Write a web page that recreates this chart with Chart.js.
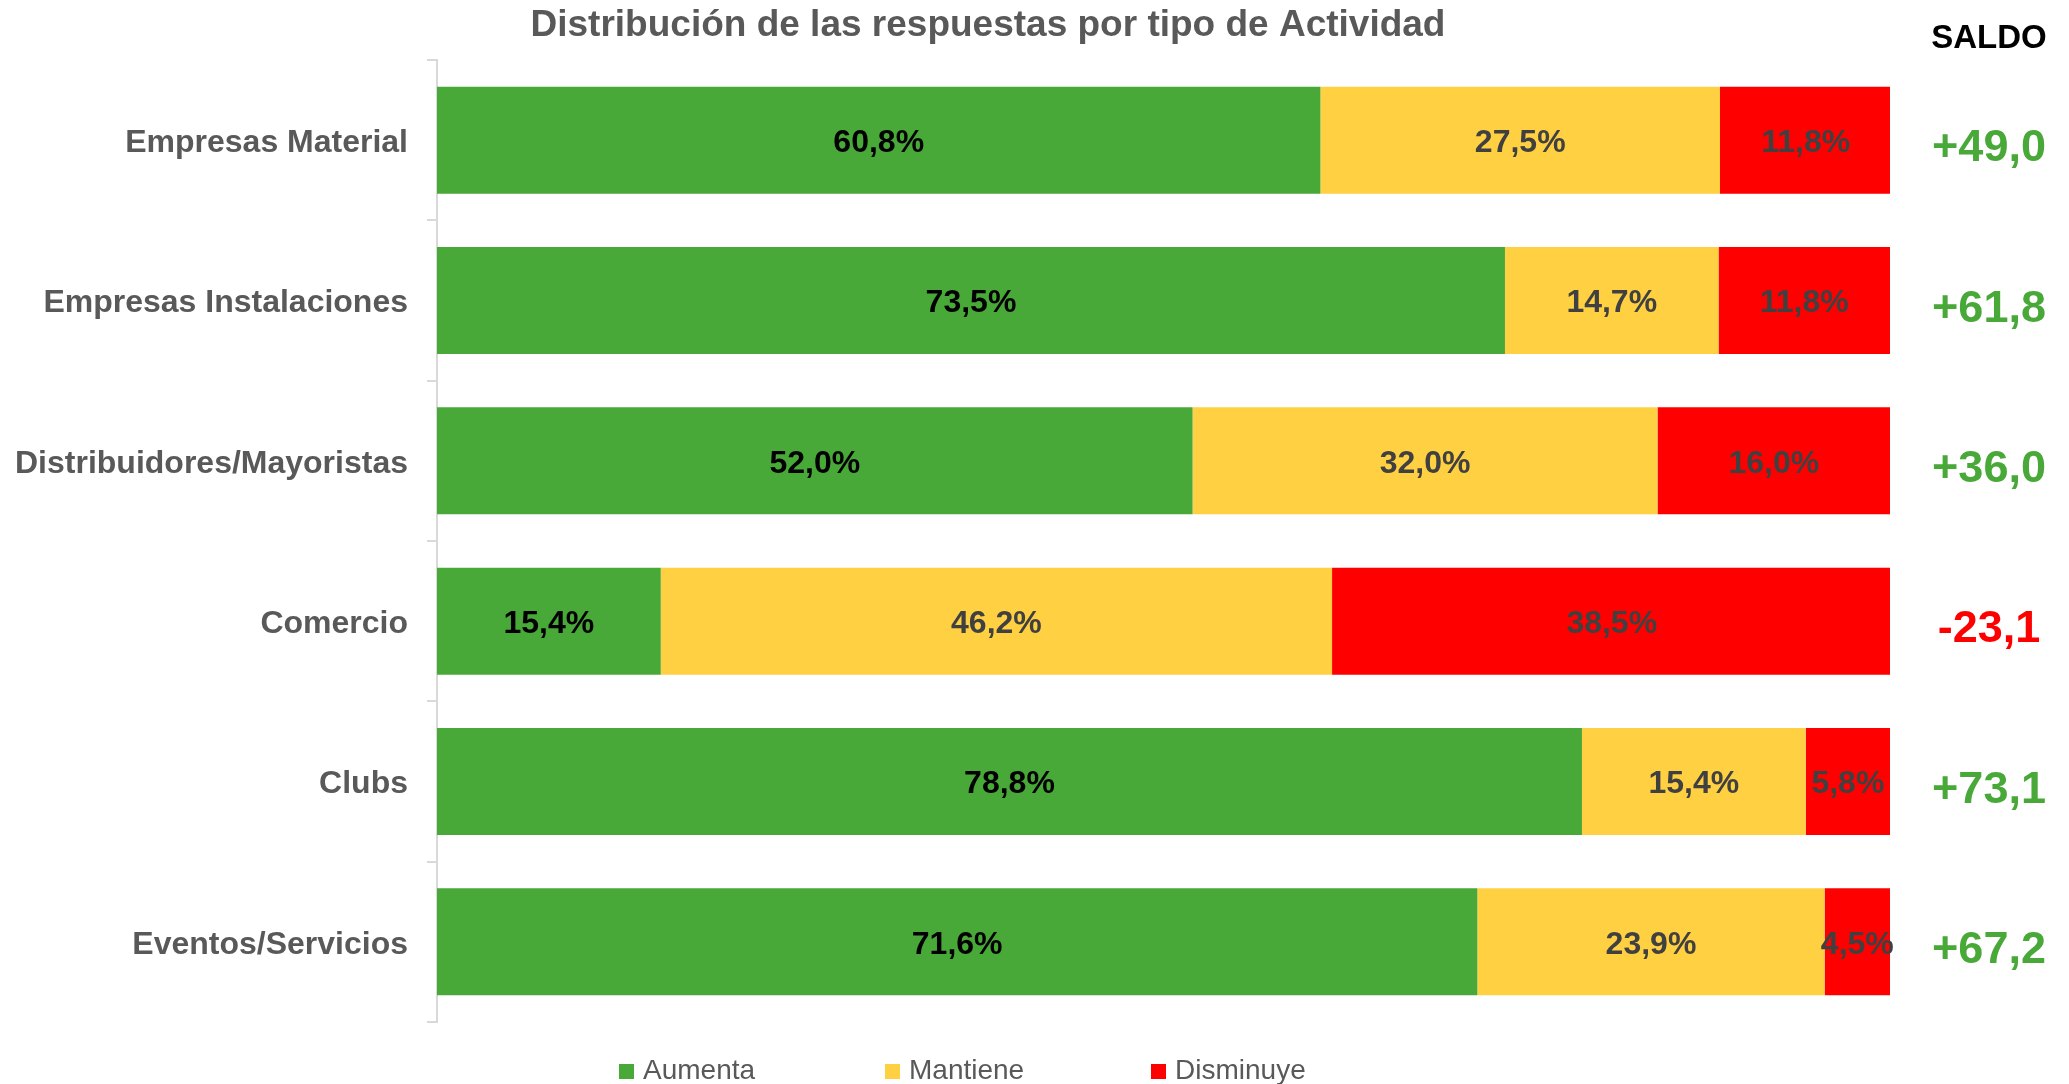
<!DOCTYPE html>
<html>
<head>
<meta charset="utf-8">
<script src="https://cdn.jsdelivr.net/npm/chart.js@4.4.1/dist/chart.umd.min.js"></script>
<style>
  html, body { margin: 0; padding: 0; background: #ffffff; }
  #wrap { position: relative; width: 2069px; height: 1084px; }
</style>
</head>
<body>
<div id="wrap"><canvas id="c" width="2069" height="1084"></canvas></div>
<script>
const categories = ["Empresas Material", "Empresas Instalaciones", "Distribuidores/Mayoristas", "Comercio", "Clubs", "Eventos/Servicios"];
const aumenta   = [60.8, 73.5, 52.0, 15.4, 78.8, 71.6];
const mantiene  = [27.5, 14.7, 32.0, 46.2, 15.4, 23.9];
const disminuye = [11.8, 11.8, 16.0, 38.5, 5.8, 4.5];
const saldo     = [49.0, 61.8, 36.0, -23.1, 73.1, 67.2];
const seriesNames = ["Aumenta", "Mantiene", "Disminuye"];
const titleText = "Distribución de las respuestas por tipo de Actividad";
const saldoTitle = "SALDO";

const GREEN = "#48A838", YELLOW = "#FFD042", RED = "#FF0000";
const FONT = "'Liberation Sans', Arial, sans-serif";

function fmt(v, dec) { return v.toFixed(dec).replace(".", ","); }

const overlay = {
  id: "overlay",
  afterDatasetsDraw(chart) {
    const ctx = chart.ctx;
    const labelColors = ["#000000", "#404040", "#404040"];
    ctx.save();
    ctx.font = "bold 32px " + FONT;
    ctx.textAlign = "center";
    ctx.textBaseline = "middle";
    chart.data.datasets.forEach((ds, di) => {
      const meta = chart.getDatasetMeta(di);
      meta.data.forEach((el, i) => {
        const cx = (el.x + el.base) / 2;
        ctx.fillStyle = labelColors[di];
        ctx.fillText(fmt(ds.data[i], 1) + "%", cx, el.y + 3);
      });
    });
    ctx.restore();
  },
  afterDraw(chart) {
    const ctx = chart.ctx;
    ctx.save();
    // title
    ctx.font = "bold 37px " + FONT;
    ctx.fillStyle = "#595959";
    ctx.textAlign = "center";
    ctx.textBaseline = "alphabetic";
    ctx.fillText(titleText, 988, 36);
    // SALDO header
    ctx.font = "bold 33px " + FONT;
    ctx.fillStyle = "#000000";
    ctx.fillText(saldoTitle, 1989, 48);
    // saldo values
    const yScale = chart.scales.y;
    ctx.font = "bold 45px " + FONT;
    saldo.forEach((v, i) => {
      const y = yScale.getPixelForValue(i);
      ctx.fillStyle = v >= 0 ? GREEN : RED;
      const s = (v >= 0 ? "+" : "-") + fmt(Math.abs(v), 1);
      ctx.fillText(s, 1989, y + 21);
    });
    // legend
    const lx = [619, 885, 1151];
    ctx.font = "28px " + FONT;
    ctx.textAlign = "left";
    chart.data.datasets.forEach((ds, di) => {
      ctx.fillStyle = ds.backgroundColor;
      ctx.fillRect(lx[di], 1064, 15, 15);
      ctx.fillStyle = "#595959";
      ctx.fillText(ds.label, lx[di] + 24, 1079);
    });
    ctx.restore();
  }
};

new Chart(document.getElementById("c"), {
  type: "bar",
  data: {
    labels: categories,
    datasets: [
      { label: seriesNames[0], data: aumenta, backgroundColor: GREEN },
      { label: seriesNames[1], data: mantiene, backgroundColor: YELLOW },
      { label: seriesNames[2], data: disminuye, backgroundColor: RED }
    ]
  },
  options: {
    indexAxis: "y",
    responsive: false,
    animation: false,
    layout: { padding: { top: 60, bottom: 62, left: 0, right: 179 } },
    datasets: { bar: { categoryPercentage: 1.0, barPercentage: 0.667, borderWidth: 0 } },
    scales: {
      x: { stacked: true, min: 0, max: 100, display: false },
      y: {
        stacked: true,
        afterFit(scale) { scale.width = 437; },
        grid: { display: true, drawOnChartArea: false, drawTicks: true, tickLength: 10, color: "#d9d9d9", lineWidth: 2, offset: true },
        border: { display: true, color: "#d9d9d9", width: 2 },
        ticks: { color: "#595959", font: { family: FONT, size: 32, weight: "bold" }, padding: 19, labelOffset: 3 }
      }
    },
    plugins: {
      legend: { display: false },
      title: { display: false },
      tooltip: { enabled: false }
    }
  },
  plugins: [overlay]
});
</script>
</body>
</html>
